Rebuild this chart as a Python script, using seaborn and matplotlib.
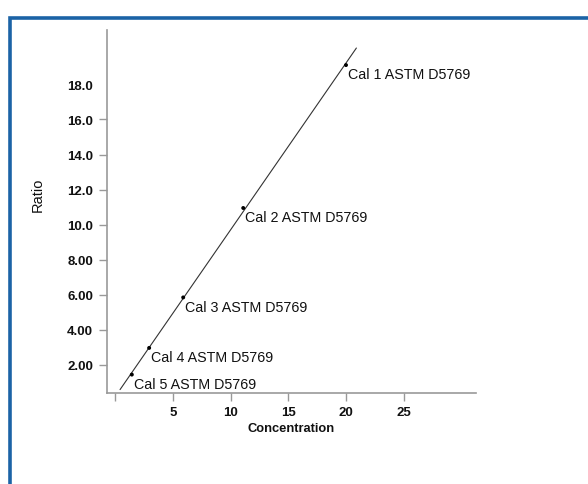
import numpy as np
import pandas as pd
import matplotlib
matplotlib.use("Agg")
import matplotlib.pyplot as plt
import seaborn as sns
from matplotlib.patches import Rectangle

# ---- data ----
labels = ["Cal 1 ASTM D5769", "Cal 2 ASTM D5769", "Cal 3 ASTM D5769",
          "Cal 4 ASTM D5769", "Cal 5 ASTM D5769"]
concentration = [20.0, 11.1, 5.9, 2.95, 1.45]
ratio = [19.1, 10.95, 5.85, 2.97, 1.45]
fit_x_range = [0.43, 20.9]
x_ticks = [0, 5, 10, 15, 20, 25]
x_tick_labels = ["", "5", "10", "15", "20", "25"]
y_ticks = [2, 4, 6, 8, 10, 12, 14, 16, 18]
y_tick_labels = ["2.00", "4.00", "6.00", "8.00", "10.0", "12.0", "14.0", "16.0", "18.0"]

df = pd.DataFrame({"Concentration": concentration, "Ratio": ratio, "label": labels})

sns.set_style("white")
plt.rcParams["font.family"] = ["Liberation Sans", "DejaVu Sans"]

fig = plt.figure(figsize=(5.88, 4.85), dpi=100)
ax = fig.add_axes([107 / 588, 1 - 394 / 485, (476 - 107) / 588, (394 - 31) / 485])

# blue frame around the panel
fig.patches.append(Rectangle((10 / 588, -0.1), 1.2, 1 - 18.5 / 485 + 0.1,
                             transform=fig.transFigure, fill=False,
                             edgecolor="#1b63a6", linewidth=2.6, zorder=0))

# regression line
slope, intercept = np.polyfit(concentration, ratio, 1)
fx = np.array(fit_x_range)
sns.lineplot(x=fx, y=slope * fx + intercept, ax=ax, color="#333333", linewidth=0.8)

sns.scatterplot(data=df, x="Concentration", y="Ratio", ax=ax, color="black",
                s=8, edgecolor="none", zorder=3)

for cx, ry, lab in zip(concentration, ratio, labels):
    ax.annotate(lab, (cx, ry), xytext=(1.5, -1.5), textcoords="offset points",
                ha="left", va="top", fontsize=10.3, color="#111111")

ax.set_xlim(-0.7, 31.26)
ax.set_ylim(0.4, 21.1)
ax.set_xticks(x_ticks)
ax.set_xticklabels(x_tick_labels)
ax.set_yticks(y_ticks)
ax.set_yticklabels(y_tick_labels)

for lab in ax.get_xticklabels() + ax.get_yticklabels():
    lab.set_fontweight("bold")
    lab.set_fontsize(9.5)
    lab.set_color("#111111")

ax.tick_params(axis="both", direction="out", length=5.5, width=1, color="#999999",
               bottom=True, left=True)
ax.tick_params(axis="y", pad=4.5)
ax.tick_params(axis="x", pad=4)
ax.yaxis.get_major_ticks()[-1].tick1line.set_visible(False)

for side in ["top", "right"]:
    ax.spines[side].set_visible(False)
for side in ["left", "bottom"]:
    ax.spines[side].set_color("#999999")
    ax.spines[side].set_linewidth(1.2)

ax.set_xlabel("Concentration", fontsize=9.3, fontweight="bold", color="#111111", labelpad=3)
ax.set_ylabel("Ratio", fontsize=10.5, color="#111111")
ax.yaxis.set_label_coords((45 - 107) / 369, (394 - 195) / 363)

fig.savefig("out.png", dpi=100)
